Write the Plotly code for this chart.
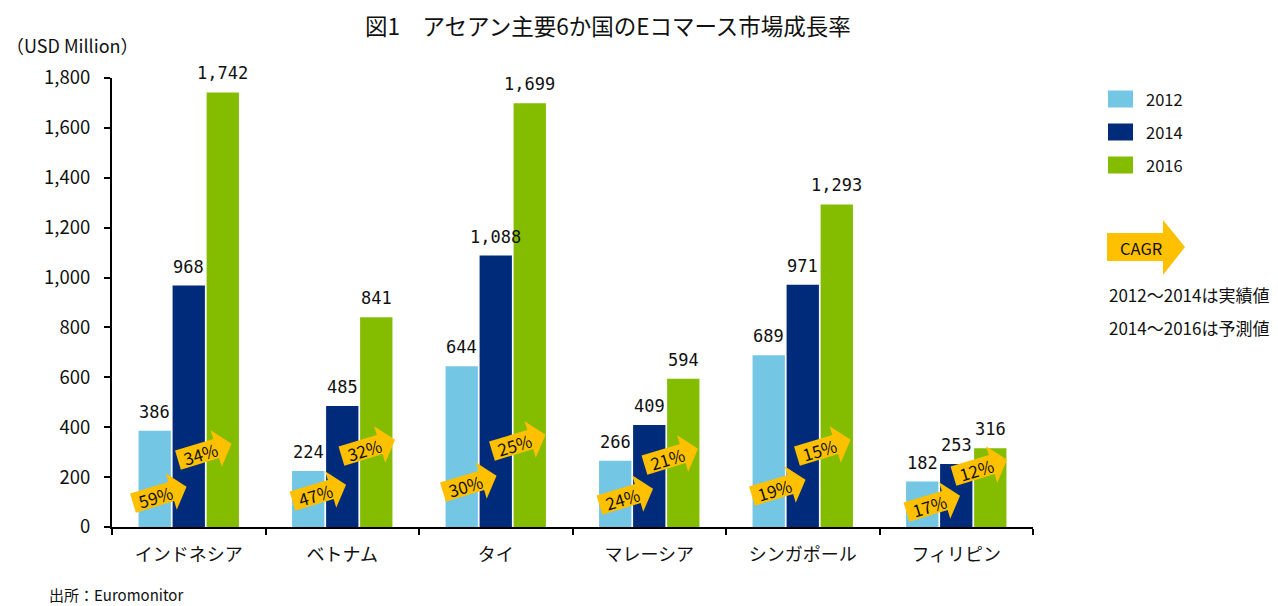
import math
import plotly.graph_objects as go

# ---- data ----
categories = ["インドネシア", "ベトナム", "タイ", "マレーシア", "シンガポール", "フィリピン"]
years = ["2012", "2014", "2016"]
v2012 = [386, 224, 644, 266, 689, 182]
v2014 = [968, 485, 1088, 409, 971, 253]
v2016 = [1742, 841, 1699, 594, 1293, 316]
cagr_12_14 = ["59%", "47%", "30%", "24%", "19%", "17%"]
cagr_14_16 = ["34%", "32%", "25%", "21%", "15%", "12%"]

# ---- layout / positions (pixels) ----
W, H = 1278, 606
ML, MR, MT, MB = 112, 245, 78, 79
PW, PH = W - ML - MR, H - MT - MB
colors = ["#74C6E5", "#002B7A", "#84BD00"]
arrow_col = "#FFC000"
BARGAP, GROUPGAP = 0.335, 0.05
JP = "Noto Sans CJK JP"
MONO = "DejaVu Sans Mono"

# arrow centre offsets relative to category centre / axis (px, y up)
arr1_dx = [-29, -23, -26, -23, -24, -23]
arr1_up = [32, 34, 43, 30, 39, 23]
arr2_dx = [16, 26, 23, 22, 21, 24]
arr2_up = [75, 79, 84, 70, 79, 59]
ARROW_ANGLE = 17


def px_x(p):
    return (p - ML) / PW


def px_y(p):
    return (H - MB - p) / PH


def arrow_path(cx, cy, ang, L=28, hb=12, bh=10, hh=19):
    pts = [(-L, -bh), (hb, -bh), (hb, -hh), (L, 0), (hb, hh), (hb, bh), (-L, bh)]
    a = math.radians(ang)
    out = []
    for u, v in pts:
        x = cx + u * math.cos(a) - v * math.sin(a)
        y = cy + u * math.sin(a) + v * math.cos(a)
        out.append((x, y))
    return "M " + " L ".join(f"{x:.1f},{y:.1f}" for x, y in out) + " Z"


fig = go.Figure()
series = [v2012, v2014, v2016]
for yr, vals, c in zip(years, series, colors):
    fig.add_trace(go.Bar(
        x=categories, y=vals, name=yr, marker=dict(color=c, line=dict(width=0)),
        showlegend=False, hoverinfo="skip",
    ))

annotations = []
shapes = []

# value labels
slot = (1 - BARGAP) / 3
for j, vals in enumerate(series):
    for i, v in enumerate(vals):
        annotations.append(dict(
            x=i + (j - 1) * slot, y=v, xref="x", yref="y", text=f"{v:,}",
            showarrow=False, yanchor="bottom", yshift=7,
            font=dict(family=MONO, size=17, color="#111111"),
        ))

# CAGR arrows
for i in range(len(categories)):
    for dxs, ups, labels in ((arr1_dx, arr1_up, cagr_12_14), (arr2_dx, arr2_up, cagr_14_16)):
        cx, cy = dxs[i], ups[i]
        shapes.append(dict(
            type="path", xref="x", yref="y", xsizemode="pixel", ysizemode="pixel",
            xanchor=i, yanchor=0, path=arrow_path(cx, cy, ARROW_ANGLE),
            fillcolor=arrow_col, line=dict(width=0), layer="above",
        ))
        annotations.append(dict(
            x=i, y=0, xref="x", yref="y", text=labels[i], showarrow=False,
            xshift=cx - 4, yshift=cy - 1, textangle=-ARROW_ANGLE,
            font=dict(family=JP, size=17, color="#111111"),
        ))

# manual legend
leg_y = [99, 132, 165]
for yr, c, yy in zip(years, colors, leg_y):
    shapes.append(dict(type="rect", xref="paper", yref="paper",
                       x0=px_x(1108), x1=px_x(1133), y0=px_y(yy - 8.5), y1=px_y(yy + 8.5),
                       fillcolor=c, line=dict(width=0)))
    annotations.append(dict(x=px_x(1144), y=px_y(yy), xref="paper", yref="paper",
                            text=yr, showarrow=False, xanchor="left", yanchor="middle",
                            font=dict(family=JP, size=16.5, color="#111111")))

# CAGR legend arrow
cagr_path = ("M 0,-14 L 56,-14 L 56,-28 L 78,0 L 56,27 L 56,14 L 0,14 Z")
shapes.append(dict(type="path", xref="paper", yref="paper", xsizemode="pixel", ysizemode="pixel",
                   xanchor=px_x(1107), yanchor=px_y(247), path=cagr_path,
                   fillcolor=arrow_col, line=dict(width=0)))
annotations.append(dict(x=px_x(1141), y=px_y(248), xref="paper", yref="paper", text="CAGR",
                        showarrow=False, xanchor="center", yanchor="middle",
                        font=dict(family=JP, size=16.5, color="#111111")))
for txt, yy in (("2012～2014は実績値", 294), ("2014～2016は予測値", 327)):
    annotations.append(dict(x=px_x(1107), y=px_y(yy), xref="paper", yref="paper", text=txt,
                            showarrow=False, xanchor="left", yanchor="middle",
                            font=dict(family=JP, size=17, color="#111111")))

# title, unit, source
annotations.append(dict(x=px_x(608), y=px_y(25), xref="paper", yref="paper",
                        text="図1　アセアン主要6か国のEコマース市場成長率", showarrow=False,
                        xanchor="center", yanchor="middle",
                        font=dict(family=JP, size=22.5, color="#111111")))
annotations.append(dict(x=px_x(4), y=px_y(45), xref="paper", yref="paper",
                        text="（USD Million）", showarrow=False, xanchor="left", yanchor="middle",
                        font=dict(family=JP, size=18, color="#111111")))
annotations.append(dict(x=px_x(47), y=px_y(594), xref="paper", yref="paper",
                        text="出所：Euromonitor", showarrow=False, xanchor="left", yanchor="middle",
                        font=dict(family=JP, size=15, color="#111111")))

fig.update_layout(
    width=W, height=H, margin=dict(l=ML, r=MR, t=MT, b=MB),
    paper_bgcolor="white", plot_bgcolor="white",
    barmode="group", bargap=BARGAP, bargroupgap=GROUPGAP,
    annotations=annotations, shapes=shapes,
    xaxis=dict(type="category", showline=True, linecolor="black", linewidth=2,
               ticks="outside", tickson="boundaries", ticklen=6, tickwidth=2, tickcolor="black",
               tickfont=dict(family=JP, size=18, color="#111111"), ticklabelstandoff=10,
               showgrid=False, zeroline=False),
    yaxis=dict(range=[0, 1800], dtick=200, tickformat=",d", showline=True, linecolor="black",
               linewidth=2, ticks="outside", ticklen=6, tickwidth=2, tickcolor="black",
               tickfont=dict(family=JP, size=18.5, color="#111111"), ticklabelstandoff=10,
               showgrid=False, zeroline=False),
)

fig.write_html("out.html")
